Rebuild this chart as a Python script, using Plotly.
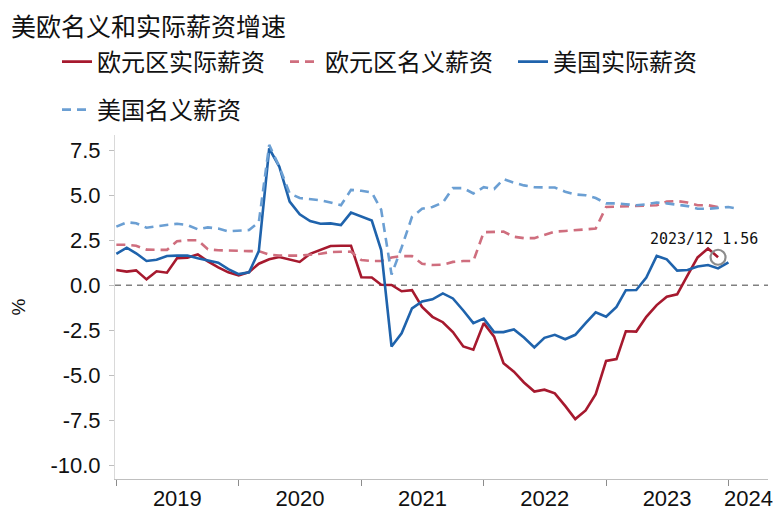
import pandas as pd
import plotly.graph_objects as go

# ---------------- data (monthly, from Jan 2019) ----------------
euro_real = [0.85, 0.76, 0.83, 0.33, 0.78, 0.70, 1.50, 1.54, 1.72, 1.33, 1.00, 0.72,
             0.55, 0.74, 1.20, 1.45, 1.57, 1.45, 1.30, 1.75, 1.95, 2.18, 2.20, 2.20,
             0.45, 0.43, 0.03, 0.02, -0.33, -0.27, -1.20, -1.75, -2.05, -2.60, -3.40, -3.58,
             -2.10, -2.85, -4.33, -4.80, -5.40, -5.90, -5.80, -6.00, -6.70, -7.43, -6.95, -6.05,
             -4.20, -4.10, -2.55, -2.57, -1.75, -1.10, -0.63, -0.50, 0.55, 1.55, 2.05, 1.56]
euro_nominal = [2.25, 2.25, 2.20, 1.98, 1.97, 1.97, 2.45, 2.50, 2.50, 2.00, 1.95, 1.95,
                1.92, 1.90, 1.90, 1.70, 1.65, 1.65, 1.65, 1.70, 1.75, 1.85, 1.87, 1.87,
                1.40, 1.35, 1.35, 1.55, 1.62, 1.62, 1.20, 1.13, 1.15, 1.30, 1.35, 1.35,
                2.95, 2.98, 2.98, 2.70, 2.62, 2.62, 2.80, 2.98, 3.02, 3.07, 3.10, 3.15,
                4.35, 4.37, 4.38, 4.40, 4.42, 4.45, 4.65, 4.68, 4.60, 4.45, 4.45, 4.35]
us_real = [1.75, 2.09, 1.78, 1.35, 1.42, 1.63, 1.65, 1.65, 1.50, 1.39, 1.26, 0.90,
           0.62, 0.72, 1.90, 7.60, 6.60, 4.65, 3.94, 3.57, 3.42, 3.44, 3.35, 4.04,
           3.81, 3.60, 1.96, -3.40, -2.67, -1.28, -0.90, -0.78, -0.45, -0.73, -1.40, -2.10,
           -1.85, -2.60, -2.60, -2.45, -2.90, -3.45, -2.92, -2.75, -3.00, -2.75, -2.10, -1.50,
           -1.75, -1.20, -0.27, -0.26, 0.43, 1.63, 1.44, 0.82, 0.85, 1.04, 1.13, 0.94,
           1.28]
us_nominal = [3.26, 3.50, 3.45, 3.20, 3.28, 3.35, 3.42, 3.35, 3.11, 3.22, 3.15, 3.00,
              3.03, 3.07, 3.50, 7.80, 6.60, 5.10, 4.85, 4.80, 4.72, 4.60, 4.45, 5.30,
              5.25, 5.15, 4.20, 0.60, 2.10, 3.80, 4.25, 4.35, 4.60, 5.40, 5.40, 5.10,
              5.45, 5.35, 5.90, 5.70, 5.55, 5.45, 5.43, 5.43, 5.20, 5.05, 5.00, 4.85,
              4.55, 4.55, 4.50, 4.45, 4.50, 4.60, 4.55, 4.48, 4.40, 4.25, 4.25, 4.30,
              4.35, 4.25]

series_names = ["欧元区实际薪资", "欧元区名义薪资", "美国实际薪资", "美国名义薪资"]
year_labels = ["2019", "2020", "2021", "2022", "2023", "2024"]
year_label_pos = ["2019-07-02", "2020-07-02", "2021-07-02", "2022-07-02", "2023-07-02", "2024-03-01"]
year_starts = ["2019-01-01", "2020-01-01", "2021-01-01", "2022-01-01", "2023-01-01", "2024-01-01"]
ytick_vals = [-10, -7.5, -5, -2.5, 0, 2.5, 5, 7.5]
ytick_text = ["-10.0", "-7.5", "-5.0", "-2.5", "0.0", "2.5", "5.0", "7.5"]
highlight_date = "2023-12-01"
highlight_label = "2023/12 1.56"


def months(n):
    return pd.date_range("2019-01-01", periods=n, freq="MS")


# page body has an 8px margin, so the figure is drawn 8px smaller and offset
W, H = 773, 507
ML, MR, MT, MB = 107, 13, 127, 36
PW, PH = W - ML - MR, H - MT - MB

fig = go.Figure()

fig.add_trace(go.Scatter(x=months(len(euro_real)), y=euro_real, mode="lines",
                         name=series_names[0], line=dict(color="#A6192E", width=2.6)))
fig.add_trace(go.Scatter(x=months(len(euro_nominal)), y=euro_nominal, mode="lines",
                         name=series_names[1],
                         line=dict(color="#CF6E7E", width=2.6, dash="9px,6px")))
fig.add_trace(go.Scatter(x=months(len(us_real)), y=us_real, mode="lines",
                         name=series_names[2], line=dict(color="#1F63AC", width=2.6)))
fig.add_trace(go.Scatter(x=months(len(us_nominal)), y=us_nominal, mode="lines",
                         name=series_names[3], legend="legend2",
                         line=dict(color="#6B9FD3", width=2.6, dash="9px,6px")))

# highlighted point
hv = euro_real[list(months(len(euro_real))).index(pd.Timestamp(highlight_date))]
fig.add_trace(go.Scatter(x=[highlight_date], y=[hv], mode="markers", showlegend=False,
                         marker=dict(symbol="circle-open", size=15, color="#8C8C8C",
                                     line=dict(width=2.2, color="#8C8C8C"))))
fig.add_annotation(x=highlight_date, y=hv, text=highlight_label, showarrow=False,
                   xanchor="center", yanchor="bottom", xshift=-14, yshift=7,
                   font=dict(family="DejaVu Sans Mono", size=15, color="#111"))

# zero line
fig.add_shape(type="line", xref="paper", x0=0, x1=1, yref="y", y0=0, y1=0,
              line=dict(color="#808080", width=1.6, dash="6px,5px"), layer="below")

leg_x = (49 - ML) / PW
fig.update_layout(
    width=W, height=H,
    margin=dict(l=ML, r=MR, t=MT, b=MB, autoexpand=False),
    paper_bgcolor="white", plot_bgcolor="white",
    title=dict(text="美欧名义和实际薪资增速", xref="container", yref="container",
               x=3 / W, xanchor="left", y=1 - 19 / H, yanchor="middle",
               font=dict(family="Noto Sans CJK SC", size=25, color="#111")),
    legend=dict(orientation="h", xref="paper", yref="paper",
                x=leg_x, xanchor="left", y=(H - MB - 54) / PH, yanchor="middle",
                entrywidth=183, entrywidthmode="pixels",
                font=dict(family="Noto Sans CJK SC", size=24, color="#111"),
                bgcolor="rgba(0,0,0,0)"),
    legend2=dict(orientation="h", xref="paper", yref="paper",
                 x=leg_x, xanchor="left", y=(H - MB - 102) / PH, yanchor="middle",
                 font=dict(family="Noto Sans CJK SC", size=24, color="#111"),
                 bgcolor="rgba(0,0,0,0)"),
    showlegend=True,
)

fig.update_xaxes(
    type="date", range=["2018-12-28", "2024-04-28"], automargin=False,
    showgrid=False, zeroline=False,
    showline=True, linecolor="#BFBFBF", linewidth=1,
    tickmode="array", tickvals=year_label_pos, ticktext=year_labels,
    ticks="", ticklabelstandoff=0,
    tickfont=dict(family="Liberation Sans Narrow, Arial Narrow, Liberation Sans", size=22, color="#111"),
    minor=dict(tickmode="array", tickvals=year_starts, ticks="outside",
               ticklen=6, tickcolor="#8C8C8C", tickwidth=1, showgrid=False),
)
fig.update_yaxes(
    range=[-10.76, 8.35], automargin=False, showgrid=False, zeroline=False,
    showline=True, linecolor="#D9D9D9", linewidth=1,
    tickmode="array", tickvals=ytick_vals, ticktext=ytick_text,
    ticks="outside", ticklen=5, tickcolor="#BFBFBF", ticklabelstandoff=4,
    tickfont=dict(family="Liberation Sans, Arial", size=22, color="#111"),
    title=dict(text="%", font=dict(family="Liberation Sans, Arial", size=19, color="#111"),
               standoff=20),
)

fig.write_html("out.html")
